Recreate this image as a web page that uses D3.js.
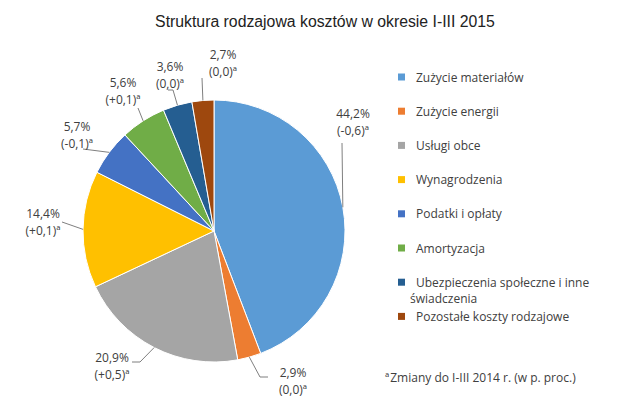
<!DOCTYPE html>
<html><head><meta charset="utf-8">
<script src="https://cdn.jsdelivr.net/npm/d3@7"></script>
<style>body{margin:0;background:#fff}svg{display:block}</style>
</head><body><svg id="c" width="640" height="408"></svg>
<script>
const title = "Struktura rodzajowa kosztów w okresie I-III 2015";
const categories = ["Zużycie materiałów","Zużycie energii","Usługi obce","Wynagrodzenia","Podatki i opłaty","Amortyzacja","Ubezpieczenia społeczne i inne świadczenia","Pozostałe koszty rodzajowe"];
const values = [44.2, 2.9, 20.9, 14.4, 5.7, 5.6, 3.6, 2.7];
const changes = ["-0,6","0,0","+0,5","+0,1","-0,1","+0,1","0,0","0,0"];
const colors = ["#5B9BD5","#ED7D31","#A5A5A5","#FFC000","#4472C4","#70AD47","#255E91","#9E480E"];
const footnote = "Zmiany do I-III 2014 r. (w p. proc.)";

// layout for labels: text center and leader bend points
const labelLayout = [
  {x:353,y:113,pts:[[342,143]]},
  {x:293,y:372,pts:[[260,377],[268,377]]},
  {x:112,y:357,pts:[[140,362],[132,362]]},
  {x:43,y:213,pts:[[62,222]]},
  {x:77,y:126,pts:[[83,149]]},
  {x:123,y:82,pts:[[138,108]]},
  {x:170,y:66,pts:[[173,90],[168,90]]},
  {x:223,y:54,pts:[[202,78]]}
];

const svg = d3.select("#c");
const font = "'Open Sans', 'Noto Sans', sans-serif";
const txt = "#404040";

svg.append("text").attr("x",325).attr("y",27).attr("text-anchor","middle")
  .attr("font-family","'Liberation Sans', Arial, sans-serif").attr("font-size",15.8)
  .attr("fill","#222").text(title);

const cx = 214, cy = 231, r = 131;
const pie = d3.pie().sort(null).value(d=>d)(values);
const arc = d3.arc().innerRadius(0).outerRadius(r);
const g = svg.append("g").attr("transform",`translate(${cx},${cy})`);
g.selectAll("path").data(pie).join("path")
  .attr("d",arc).attr("fill",(d,i)=>colors[i]).attr("stroke","#fff").attr("stroke-width",1);

// leaders
pie.forEach((d,i)=>{
  const a = (d.startAngle+d.endAngle)/2;
  const p0 = [cx + r*Math.sin(a), cy - r*Math.cos(a)];
  const pts = [p0].concat(labelLayout[i].pts);
  svg.append("path").attr("d", d3.line()(pts)).attr("fill","none")
    .attr("stroke","#7f7f7f").attr("stroke-width",1);
  const L = labelLayout[i];
  const t = svg.append("text").attr("text-anchor","middle").attr("font-family",font)
    .attr("font-size",12).attr("fill",txt);
  t.append("tspan").attr("x",L.x).attr("y",L.y+4.5).text(d3.format(".1f")(values[i]).replace(".",",")+"%");
  t.append("tspan").attr("x",L.x).attr("y",L.y+21.5).text("("+changes[i]+")ª");
});

// legend
const lx = 398, ly0 = 77, step = 34.2;
categories.forEach((c,i)=>{
  const y = ly0 + i*step;
  svg.append("rect").attr("x",lx).attr("y",y-3.5).attr("width",7).attr("height",7).attr("fill",colors[i]);
  const t = svg.append("text").attr("font-family",font).attr("font-size",12).attr("fill",txt);
  if (i===6) {
    t.append("tspan").attr("x",416).attr("y",y+4.5).text("Ubezpieczenia społeczne i inne");
    t.append("tspan").attr("x",410).attr("y",y+21).text("świadczenia");
  } else {
    t.append("tspan").attr("x",416).attr("y",y+4.5).text(c);
  }
});

const f = svg.append("text").attr("x",385).attr("y",382).attr("font-family",font).attr("font-size",12).attr("fill",txt);
f.append("tspan").text("ª");
f.append("tspan").attr("dx",1).text(footnote);
</script></body></html>
